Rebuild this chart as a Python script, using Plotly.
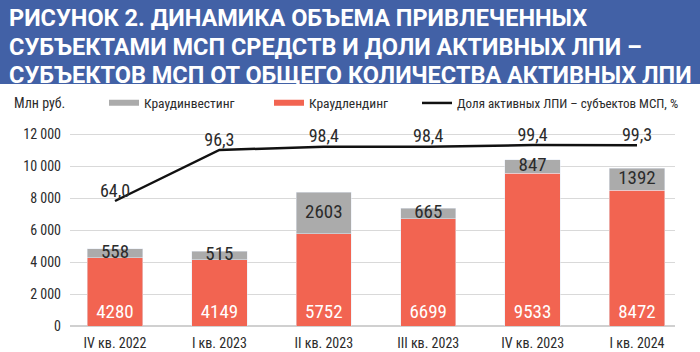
import plotly.graph_objects as go

categories = ["IV кв. 2022", "I кв. 2023", "II кв. 2023", "III кв. 2023", "IV кв. 2023", "I кв. 2024"]
lending = [4280, 4149, 5752, 6699, 9533, 8472]
investing = [558, 515, 2603, 665, 847, 1392]
share = [64.0, 96.3, 98.4, 98.4, 99.4, 99.3]
yticks = [0, 2000, 4000, 6000, 8000, 10000, 12000]

title_lines = ["РИСУНОК 2. ДИНАМИКА ОБЪЕМА ПРИВЛЕЧЕННЫХ",
               "СУБЪЕКТАМИ МСП СРЕДСТВ И ДОЛИ АКТИВНЫХ ЛПИ –",
               "СУБЪЕКТОВ МСП ОТ ОБЩЕГО КОЛИЧЕСТВА АКТИВНЫХ ЛПИ"]

RED = "#F26451"
GRAY = "#ABABAB"
BLUE = "#4261A6"
TXT = "#2B2B2B"
FONT = "Liberation Sans Narrow, Roboto Condensed, DejaVu Sans Condensed, Roboto, sans-serif"
TFONT = "Roboto, sans-serif"

W, H = 700, 352
L, R, T, B = 70, 25, 120, 26
PH = H - T - B
PW = W - L - R

def px_x(p):
    return (p - L) / PW

def px_y(p):
    return (H - B - p) / PH

fig = go.Figure()

fig.add_trace(go.Bar(
    x=categories, y=lending, marker_color=RED, width=0.53,
    text=[str(v) for v in lending], textposition="inside", insidetextanchor="start",
    textangle=0, constraintext="none",
    textfont=dict(color="white", size=19, family=FONT), showlegend=False, hoverinfo="skip"))
fig.add_trace(go.Bar(
    x=categories, y=investing, marker_color=GRAY, width=0.53,
    showlegend=False, hoverinfo="skip"))
fig.add_trace(go.Scatter(
    x=categories, y=[a + b / 2 for a, b in zip(lending, investing)],
    mode="text", text=[str(v) for v in investing], textposition="middle center",
    textfont=dict(color=TXT, size=19, family=FONT), showlegend=False, hoverinfo="skip"))
fig.add_trace(go.Scatter(
    x=categories, y=share, yaxis="y2", mode="lines+text",
    line=dict(color="#111111", width=2.5),
    text=[f"{v:.1f}".replace(".", ",") for v in share], textposition="top center",
    textfont=dict(color=TXT, size=18, family=FONT), showlegend=False, hoverinfo="skip"))

# legend entries
fig.add_trace(go.Scatter(x=[None], y=[None], mode="lines", name="Краудинвестинг",
                         line=dict(color=GRAY, width=6), legend="legend"))
fig.add_trace(go.Scatter(x=[None], y=[None], mode="lines", name="Краудлендинг",
                         line=dict(color=RED, width=6), legend="legend2"))
fig.add_trace(go.Scatter(x=[None], y=[None], mode="lines", name="Доля активных ЛПИ – субъектов МСП, %",
                         line=dict(color="#111111", width=2.5), legend="legend3"))

leg_common = dict(orientation="h", yanchor="middle", xanchor="left", y=px_y(103),
                  bgcolor="rgba(0,0,0,0)")
fig.update_layout(
    legend=dict(x=px_x(104), font=dict(size=13.5, color=TXT, family=FONT), **leg_common),
    legend2=dict(x=px_x(269), font=dict(size=13.5, color=TXT, family=FONT), **leg_common),
    legend3=dict(x=px_x(417), font=dict(size=13, color=TXT, family=FONT), **leg_common),
)

annotations = []
for line, yc in zip(title_lines, [18, 47, 75]):
    annotations.append(dict(text=line, xref="paper", yref="paper", x=px_x(7), y=px_y(yc),
                            xanchor="left", yanchor="middle", align="left", showarrow=False,
                            font=dict(size=23.5, color="white", family=TFONT, weight="bold")))
annotations.append(dict(text="Млн руб.", xref="paper", yref="paper", x=px_x(12), y=px_y(103),
                        xanchor="left", yanchor="middle", showarrow=False,
                        font=dict(size=14, color=TXT, family=FONT)))

fig.update_layout(
    width=W, height=H, margin=dict(l=L, r=R, t=T, b=B, autoexpand=False),
    paper_bgcolor="white", plot_bgcolor="white",
    barmode="stack", separators=", ",
    font=dict(family=FONT, color=TXT, size=14),
    xaxis=dict(range=[-0.431, 5.364], showgrid=False, showline=False, ticks="", automargin=False,
               ticklabelstandoff=7, tickfont=dict(size=14, color=TXT, family=FONT)),
    yaxis=dict(range=[0, PH / 0.016], tickvals=yticks, tickformat=",d", automargin=False,
               showgrid=True, gridcolor="#D9D9D9", gridwidth=1.2, zeroline=True,
               zerolinecolor="#D0D0D0", zerolinewidth=1.5, showline=False, ticks="",
               ticklabelstandoff=8, tickfont=dict(size=14, color=TXT, family=FONT)),
    yaxis2=dict(overlaying="y", side="right", range=[-15.17, 115.3], visible=False),
    shapes=[dict(type="rect", xref="paper", yref="paper", x0=px_x(-5), x1=px_x(W + 5),
                 y0=px_y(84), y1=px_y(-5), fillcolor=BLUE, line=dict(width=0), layer="below")],
    annotations=annotations,
)

fig.write_html("out.html")
